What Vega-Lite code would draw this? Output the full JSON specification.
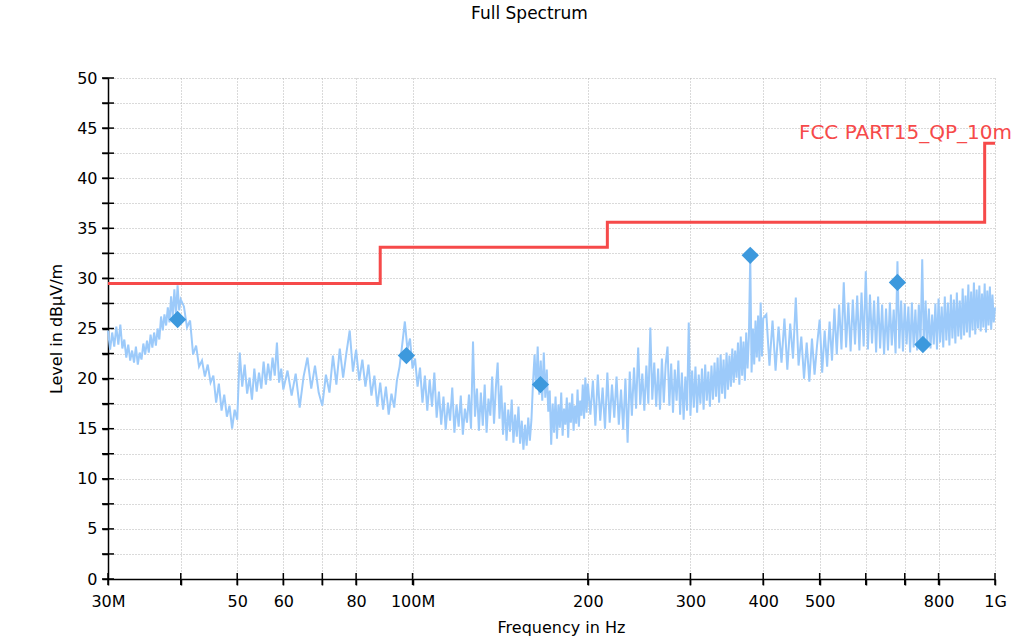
{
"$schema": "https://vega.github.io/schema/vega-lite/v6.json",
"width": 887,
"height": 501,
"autosize": {"type": "none"},
"padding": {"left": 108, "top": 78, "right": 38, "bottom": 64},
"background": "white",
"title": {"text": "Full Spectrum", "font": "DejaVu Sans", "fontSize": 17, "fontWeight": "normal", "color": "#000000", "anchor": "middle", "dx": -22, "baseline": "alphabetic", "offset": 34},
"config": {"view": {"stroke": null}, "font": "DejaVu Sans"},
"datasets": {
"spec": [
{"f":30,"v":24.8},{"f":30.25,"v":22.9},{"f":30.5,"v":24.6},{"f":30.75,"v":23.2},{"f":31,"v":25.2},{"f":31.25,"v":23.4},{"f":31.5,"v":25.4},{"f":31.75,"v":23.0},{"f":32,"v":23.9},{"f":32.25,"v":22.1},{"f":32.5,"v":23.4},{"f":32.75,"v":21.8},{"f":33,"v":22.8},{"f":33.25,"v":21.6},{"f":33.5,"v":23.2},{"f":33.75,"v":21.4},{"f":34,"v":22.6},{"f":34.25,"v":21.9},{"f":34.5,"v":23.5},{"f":34.75,"v":22.4},{"f":35,"v":23.8},{"f":35.25,"v":22.6},{"f":35.5,"v":24.4},{"f":35.75,"v":23.1},{"f":36,"v":24.6},{"f":36.25,"v":23.3},{"f":36.5,"v":25.0},{"f":36.75,"v":23.9},{"f":37,"v":26.2},{"f":37.25,"v":24.8},{"f":37.5,"v":26.4},{"f":37.75,"v":25.3},{"f":38,"v":27.1},{"f":38.25,"v":25.6},{"f":38.5,"v":28.2},{"f":38.75,"v":26.1},{"f":39,"v":28.9},{"f":39.25,"v":26.4},{"f":39.5,"v":29.3},{"f":39.75,"v":26.8},{"f":40,"v":27.9},
{"f":40.5,"v":27.2},{"f":41,"v":25.1},{"f":41.5,"v":25.8},{"f":42,"v":22.4},{"f":42.5,"v":23.3},{"f":43,"v":21.2},{"f":43.5,"v":21.8},{"f":44,"v":20.2},{"f":44.5,"v":21.4},{"f":45,"v":19.6},{"f":45.5,"v":20.3},{"f":46,"v":17.6},{"f":46.5,"v":19.5},{"f":47,"v":16.8},{"f":47.5,"v":18.4},{"f":48,"v":16.2},{"f":48.5,"v":17.3},{"f":49,"v":15.0},{"f":49.5,"v":16.9},{"f":50,"v":15.9},{"f":50.5,"v":22.6},{"f":51,"v":19.2},{"f":51.5,"v":21.4},{"f":52,"v":18.5},{"f":52.5,"v":20.1},{"f":53,"v":17.9},{"f":53.5,"v":21.0},{"f":54,"v":18.7},{"f":54.5,"v":20.6},{"f":55,"v":19.0},{"f":55.5,"v":21.7},{"f":56,"v":19.4},{"f":56.5,"v":21.5},{"f":57,"v":19.8},{"f":57.5,"v":22.1},{"f":58,"v":20.3},{"f":58.5,"v":23.6},{"f":59,"v":19.6},{"f":59.5,"v":21.0},{"f":60,"v":18.9},
{"f":61,"v":20.8},{"f":62,"v":18.3},{"f":63,"v":20.5},{"f":64,"v":17.1},{"f":65,"v":20.2},{"f":66,"v":22.1},{"f":67,"v":19.0},{"f":68,"v":21.3},{"f":69,"v":18.6},{"f":70,"v":17.3},{"f":71,"v":20.4},{"f":72,"v":18.6},{"f":73,"v":22.3},{"f":74,"v":19.4},{"f":75,"v":23.0},{"f":76,"v":20.1},{"f":77,"v":22.6},{"f":78,"v":24.8},{"f":79,"v":20.7},{"f":80,"v":22.9},{"f":81,"v":19.8},{"f":82,"v":21.9},{"f":83,"v":19.2},{"f":84,"v":21.4},{"f":85,"v":18.3},{"f":86,"v":20.3},{"f":87,"v":17.2},{"f":88,"v":19.6},{"f":89,"v":16.9},{"f":90,"v":19.2},{"f":91,"v":16.4},{"f":92,"v":18.5},{"f":93,"v":17.1},{"f":94,"v":19.8},{"f":95,"v":21.2},{"f":96,"v":23.4},{"f":97,"v":25.7},{"f":98,"v":22.9},{"f":99,"v":24.0},{"f":100,"v":21.0},
{"f":101,"v":22.0},{"f":102,"v":19.2},{"f":103,"v":21.1},{"f":104,"v":17.6},{"f":105,"v":20.3},{"f":106,"v":16.8},{"f":107,"v":19.9},{"f":108,"v":17.2},{"f":109,"v":20.6},{"f":110,"v":16.1},{"f":111,"v":18.7},{"f":112,"v":15.4},{"f":113,"v":18.2},{"f":114,"v":14.9},{"f":115,"v":17.6},{"f":116,"v":15.8},{"f":117,"v":19.1},{"f":118,"v":14.6},{"f":119,"v":17.4},{"f":120,"v":15.2},{"f":121,"v":18.3},{"f":122,"v":14.4},{"f":123,"v":17.0},{"f":124,"v":15.6},{"f":125,"v":18.4},{"f":126,"v":15.0},{"f":127,"v":23.7},{"f":128,"v":16.2},{"f":129,"v":19.0},{"f":130,"v":14.8},{"f":131,"v":18.6},{"f":132,"v":15.3},{"f":133,"v":19.4},{"f":134,"v":14.6},{"f":135,"v":18.0},{"f":136,"v":16.3},{"f":137,"v":20.2},{"f":138,"v":15.5},{"f":139,"v":19.1},{"f":140,"v":21.6},{"f":141,"v":16.0},{"f":142,"v":19.3},{"f":143,"v":14.4},{"f":144,"v":17.6},{"f":145,"v":13.8},{"f":146,"v":16.9},{"f":147,"v":14.7},{"f":148,"v":17.9},{"f":149,"v":13.6},{"f":150,"v":16.4},{"f":151,"v":14.2},{"f":152,"v":17.2},{"f":153,"v":13.5},{"f":154,"v":15.8},{"f":155,"v":12.9},{"f":156,"v":15.4},{"f":157,"v":13.3},{"f":158,"v":16.1},{"f":159,"v":13.8},{"f":160,"v":15.9},{"f":161,"v":19.6},{"f":162,"v":22.4},{"f":163,"v":19.0},{"f":164,"v":23.2},{"f":165,"v":18.4},{"f":166,"v":21.8},{"f":167,"v":17.8},{"f":168,"v":22.6},{"f":169,"v":18.1},{"f":170,"v":20.9},{"f":171,"v":16.7},{"f":172,"v":18.8},{"f":173,"v":13.4},{"f":174,"v":17.5},{"f":175,"v":14.6},{"f":176,"v":18.2},{"f":177,"v":14.0},{"f":178,"v":17.4},{"f":179,"v":15.1},{"f":180,"v":18.6},{"f":181,"v":14.3},{"f":182,"v":17.0},{"f":183,"v":15.4},{"f":184,"v":18.1},{"f":185,"v":14.1},{"f":186,"v":17.6},{"f":187,"v":15.6},{"f":188,"v":18.5},{"f":189,"v":14.8},{"f":190,"v":17.3},{"f":191,"v":15.5},{"f":192,"v":18.9},{"f":193,"v":15.2},{"f":194,"v":17.8},{"f":195,"v":16.3},{"f":196,"v":19.4},{"f":197,"v":16.0},{"f":198,"v":20.1},{"f":199,"v":16.6},{"f":200,"v":19.5},
{"f":202,"v":16.4},{"f":204,"v":19.8},{"f":206,"v":15.3},{"f":208,"v":20.4},{"f":210,"v":15.8},{"f":212,"v":19.1},{"f":214,"v":15.0},{"f":216,"v":20.6},{"f":218,"v":15.6},{"f":220,"v":19.4},{"f":222,"v":16.1},{"f":224,"v":20.2},{"f":226,"v":15.4},{"f":228,"v":18.9},{"f":230,"v":14.9},{"f":232,"v":20.0},{"f":234,"v":13.6},{"f":236,"v":20.7},{"f":238,"v":16.3},{"f":240,"v":21.1},{"f":242,"v":17.0},{"f":244,"v":23.1},{"f":246,"v":17.4},{"f":248,"v":20.5},{"f":250,"v":16.8},{"f":252,"v":21.3},{"f":254,"v":17.5},{"f":256,"v":25.1},{"f":258,"v":17.9},{"f":260,"v":21.6},{"f":262,"v":17.2},{"f":264,"v":21.0},{"f":266,"v":16.9},{"f":268,"v":22.0},{"f":270,"v":17.6},{"f":272,"v":21.4},{"f":274,"v":23.2},{"f":276,"v":17.3},{"f":278,"v":21.5},{"f":280,"v":16.6},{"f":282,"v":20.9},{"f":284,"v":17.8},{"f":286,"v":21.8},{"f":288,"v":16.4},{"f":290,"v":20.6},{"f":292,"v":15.9},{"f":294,"v":20.2},{"f":296,"v":16.8},{"f":298,"v":25.6},{"f":300,"v":16.3},{"f":302,"v":20.8},{"f":304,"v":17.1},{"f":306,"v":21.2},{"f":308,"v":16.6},{"f":310,"v":20.4},{"f":312,"v":17.5},{"f":314,"v":21.0},{"f":316,"v":16.9},{"f":318,"v":21.4},{"f":320,"v":17.8},{"f":322,"v":20.7},{"f":324,"v":17.2},{"f":326,"v":21.3},{"f":328,"v":17.9},{"f":330,"v":21.6},{"f":332,"v":18.2},{"f":334,"v":22.1},{"f":336,"v":17.6},{"f":338,"v":22.4},{"f":340,"v":18.5},{"f":342,"v":21.9},{"f":344,"v":18.0},{"f":346,"v":22.6},{"f":348,"v":18.9},{"f":350,"v":22.3},{"f":352,"v":19.2},{"f":354,"v":23.0},{"f":356,"v":19.6},{"f":358,"v":22.8},{"f":360,"v":20.1},{"f":362,"v":23.6},{"f":364,"v":19.4},{"f":366,"v":24.2},{"f":368,"v":20.3},{"f":370,"v":23.7},{"f":372,"v":19.8},{"f":374,"v":24.6},{"f":376,"v":21.0},{"f":378,"v":24.2},{"f":380,"v":32.3},{"f":382,"v":20.6},{"f":384,"v":25.0},{"f":386,"v":21.4},{"f":388,"v":25.8},{"f":390,"v":22.1},{"f":392,"v":26.3},{"f":394,"v":21.7},{"f":396,"v":27.6},{"f":398,"v":22.2},{"f":400,"v":26.0},
{"f":405,"v":26.4},{"f":410,"v":21.3},{"f":415,"v":25.8},{"f":420,"v":20.8},{"f":425,"v":25.2},{"f":430,"v":21.6},{"f":435,"v":26.0},{"f":440,"v":20.9},{"f":445,"v":25.5},{"f":450,"v":22.0},{"f":455,"v":28.1},{"f":460,"v":21.3},{"f":465,"v":24.2},{"f":470,"v":20.0},{"f":475,"v":23.6},{"f":480,"v":19.7},{"f":485,"v":24.0},{"f":490,"v":20.4},{"f":495,"v":23.4},{"f":500,"v":25.9},{"f":505,"v":20.6},{"f":510,"v":24.8},{"f":515,"v":21.2},{"f":520,"v":25.7},{"f":525,"v":21.8},{"f":530,"v":27.0},{"f":535,"v":22.4},{"f":540,"v":27.4},{"f":545,"v":22.9},{"f":550,"v":29.6},{"f":555,"v":23.1},{"f":560,"v":27.6},{"f":565,"v":22.7},{"f":570,"v":27.9},{"f":575,"v":23.4},{"f":580,"v":28.3},{"f":585,"v":22.8},{"f":590,"v":28.6},{"f":595,"v":23.2},{"f":600,"v":30.7},{"f":605,"v":22.9},{"f":610,"v":28.4},{"f":615,"v":23.5},{"f":620,"v":27.8},{"f":625,"v":22.6},{"f":630,"v":28.2},{"f":635,"v":23.0},{"f":640,"v":27.4},{"f":645,"v":22.4},{"f":650,"v":27.0},{"f":655,"v":22.8},{"f":660,"v":27.6},{"f":665,"v":23.3},{"f":670,"v":26.9},{"f":675,"v":22.5},{"f":680,"v":31.7},{"f":685,"v":23.0},{"f":690,"v":27.8},{"f":695,"v":22.7},{"f":700,"v":27.5},{"f":705,"v":23.4},{"f":710,"v":27.2},{"f":715,"v":22.6},{"f":720,"v":27.6},{"f":725,"v":23.1},{"f":730,"v":26.9},{"f":735,"v":22.8},{"f":740,"v":27.4},{"f":745,"v":23.5},{"f":750,"v":31.9},{"f":755,"v":22.9},{"f":760,"v":27.8},{"f":765,"v":23.2},{"f":770,"v":27.0},{"f":775,"v":23.0},{"f":780,"v":26.4},{"f":785,"v":23.4},{"f":790,"v":27.5},{"f":795,"v":22.9},{"f":800,"v":28.0},{"f":805,"v":23.6},{"f":810,"v":27.2},{"f":815,"v":23.1},{"f":820,"v":28.2},{"f":825,"v":23.8},{"f":830,"v":27.6},{"f":835,"v":23.3},{"f":840,"v":28.4},{"f":845,"v":24.0},{"f":850,"v":27.9},{"f":855,"v":23.5},{"f":860,"v":28.6},{"f":865,"v":24.2},{"f":870,"v":27.8},{"f":875,"v":23.9},{"f":880,"v":29.0},{"f":885,"v":24.3},{"f":890,"v":28.3},{"f":895,"v":24.6},{"f":900,"v":29.4},{"f":905,"v":24.1},{"f":910,"v":28.7},{"f":915,"v":24.8},{"f":920,"v":29.6},{"f":925,"v":24.4},{"f":930,"v":28.9},{"f":935,"v":25.0},{"f":940,"v":29.3},{"f":945,"v":24.7},{"f":950,"v":28.5},{"f":955,"v":25.1},{"f":960,"v":29.5},{"f":965,"v":24.6},{"f":970,"v":28.8},{"f":975,"v":25.3},{"f":980,"v":29.2},{"f":985,"v":24.9},{"f":990,"v":28.4},{"f":995,"v":25.6},{"f":1000,"v":27.1}
],
"limit": [{"f":30,"v":29.5},{"f":88,"v":33.1},{"f":216,"v":35.6},{"f":960,"v":43.5},{"f":1000,"v":43.5}],
"peaks": [{"f":39.5,"v":25.9},{"f":97.6,"v":22.3},{"f":165.8,"v":19.4},{"f":380,"v":32.3},{"f":680,"v":29.6},{"f":752,"v":23.4}],
"lbl": [{"f":1000,"v":43.5,"t":"FCC PART15_QP_10m"}],
"xticks": [{"f":30},{"f":40},{"f":50},{"f":60},{"f":70},{"f":80},{"f":100},{"f":200},{"f":300},{"f":400},{"f":500},{"f":600},{"f":700},{"f":800},{"f":1000}],
"yticks": [{"v":0},{"v":2.5},{"v":5},{"v":7.5},{"v":10},{"v":12.5},{"v":15},{"v":17.5},{"v":20},{"v":22.5},{"v":25},{"v":27.5},{"v":30},{"v":32.5},{"v":35},{"v":37.5},{"v":40},{"v":42.5},{"v":45},{"v":47.5},{"v":50}]
},
"layer": [
{"data": {"name": "spec"},
 "mark": {"type": "line", "color": "#9ccafa", "strokeWidth": 2},
 "encoding": {
  "x": {"field": "f", "type": "quantitative",
        "scale": {"type": "log", "domain": [30, 1000], "nice": false},
        "axis": {"orient": "bottom", "values": [30,40,50,60,70,80,100,200,300,400,500,600,700,800,1000],
                 "labelExpr": "datum.value == 30 ? '30M' : datum.value == 100 ? '100M' : datum.value == 1000 ? '1G' : (datum.value == 40 || datum.value == 70 || datum.value == 600 || datum.value == 700) ? '' : format(datum.value, 'd')",
                 "labelOverlap": false, "labelFlush": false, "labelBound": false,
                 "grid": true, "gridColor": "#b4b4b4", "gridDash": [1, 2], "gridWidth": 1,
                 "domainColor": "#000000", "domainWidth": 1.5, "tickColor": "#000000", "tickWidth": 1.5, "tickSize": 6,
                 "labelFont": "DejaVu Sans", "labelFontSize": 16, "labelColor": "#000000", "labelPadding": 8,
                 "title": "Frequency in Hz", "titleFont": "DejaVu Sans", "titleFontSize": 16, "titleFontWeight": "normal", "titleColor": "#000000", "titlePadding": 10, "titleX": 453}},
  "y": {"field": "v", "type": "quantitative",
        "scale": {"domain": [0, 50], "nice": false},
        "axis": {"orient": "left", "values": [0,2.5,5,7.5,10,12.5,15,17.5,20,22.5,25,27.5,30,32.5,35,37.5,40,42.5,45,47.5,50],
                 "labelExpr": "datum.value % 5 === 0 ? datum.label : ''",
                 "grid": true, "gridColor": "#b4b4b4", "gridDash": [1, 2], "gridWidth": 1,
                 "domainColor": "#000000", "domainWidth": 1.5, "tickColor": "#000000", "tickWidth": 1.5, "tickSize": 6,
                 "labelFont": "DejaVu Sans", "labelFontSize": 16, "labelColor": "#000000", "labelPadding": 5,
                 "title": "Level in dBµV/m", "titleFont": "DejaVu Sans", "titleFontSize": 16, "titleFontWeight": "normal", "titleColor": "#000000", "titlePadding": 12}}
 }},
{"data": {"name": "xticks"},
 "mark": {"type": "tick", "orient": "vertical", "size": 12, "thickness": 1.5, "color": "#000000", "opacity": 1, "clip": false},
 "encoding": {
  "x": {"field": "f", "type": "quantitative", "axis": null},
  "y": {"datum": 0, "type": "quantitative", "axis": null}
 }},
{"data": {"name": "yticks"},
 "mark": {"type": "tick", "orient": "horizontal", "size": 12, "thickness": 1.5, "color": "#000000", "opacity": 1, "clip": false},
 "encoding": {
  "x": {"datum": 30, "type": "quantitative", "axis": null},
  "y": {"field": "v", "type": "quantitative", "axis": null}
 }},
{"data": {"name": "limit"},
 "mark": {"type": "line", "interpolate": "step-after", "color": "#f64a4a", "strokeWidth": 3},
 "encoding": {
  "x": {"field": "f", "type": "quantitative", "axis": null},
  "y": {"field": "v", "type": "quantitative", "axis": null}
 }},
{"data": {"name": "peaks"},
 "mark": {"type": "point", "shape": "diamond", "filled": true, "size": 300, "color": "#3d99dd", "opacity": 1},
 "encoding": {
  "x": {"field": "f", "type": "quantitative", "axis": null},
  "y": {"field": "v", "type": "quantitative", "axis": null}
 }},
{"data": {"name": "lbl"},
 "mark": {"type": "text", "align": "right", "baseline": "alphabetic", "dx": 17, "dy": -4, "font": "DejaVu Sans", "fontSize": 20, "color": "#f64a4a"},
 "encoding": {
  "x": {"field": "f", "type": "quantitative", "axis": null},
  "y": {"field": "v", "type": "quantitative", "axis": null},
  "text": {"field": "t"}
 }}
],
"resolve": {"axis": {"x": "independent", "y": "independent"}}
}
